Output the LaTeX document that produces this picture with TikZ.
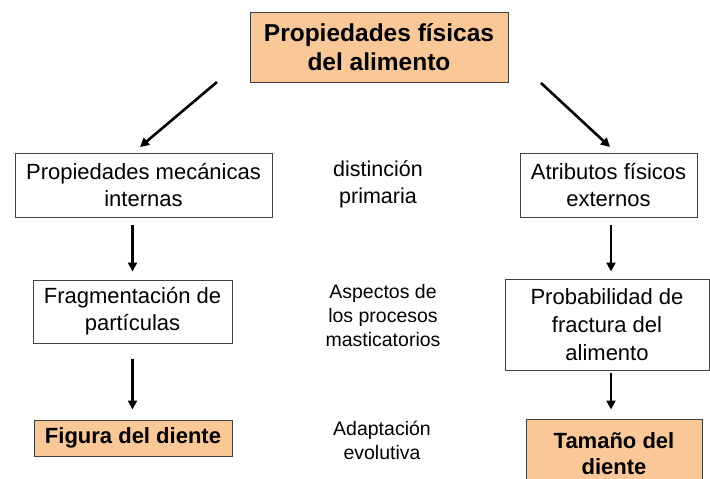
\documentclass[tikz,border=0pt]{standalone}
\usepackage{fontspec}
\setmainfont{Liberation Sans}
\usetikzlibrary{arrows.meta}
\definecolor{peach}{HTML}{F9C896}
\definecolor{edge}{HTML}{404040}
\tikzset{
  box/.style={draw=edge, line width=1pt, fill=white, align=center, inner sep=0pt,
    font=\fontsize{22}{27}\selectfont},
  hibox/.style={box, fill=peach, font=\fontsize{22}{26}\selectfont\bfseries},
  midtext/.style={align=center, inner sep=0pt, font=\fontsize{19.5}{24}\selectfont},
  arr/.style={line width=2.6pt, -{Triangle[length=9pt,width=9pt]}}
}
\begin{document}
\begin{tikzpicture}[x=1pt,y=-1pt]
\useasboundingbox (0,0) rectangle (710,479);
\node[hibox, minimum width=258pt, minimum height=70pt,
  font=\fontsize{24.5}{29}\selectfont\bfseries] (top) at (379,47) {Propiedades físicas\\del alimento};
\node[box, minimum width=257pt, minimum height=64pt] (pmi) at (143.5,185) {Propiedades mecánicas\\internas};
\node[box, minimum width=177pt, minimum height=64pt] (afe) at (608.5,185) {Atributos físicos\\externos};
\node[box, minimum width=199pt, minimum height=63pt] (frag) at (132.5,311.5) {Fragmentación de\\partículas};
\node[box, minimum width=204pt, minimum height=91pt, font=\fontsize{22}{28}\selectfont] (prob) at (607,324.5) {Probabilidad de\\fractura del\\alimento};
\node[hibox, minimum width=198pt, minimum height=36pt] (fig) at (133,438) {Figura del diente};
\node[hibox, minimum width=176pt, minimum height=70pt, align=center] (tam) at (614,454)
  {\fontsize{22}{27}\selectfont\bfseries Tamaño del\\diente};
\node[midtext, font=\fontsize{21.5}{27}\selectfont] (dist) at (378,184.5) {distinción\\primaria};
\node[midtext] (asp) at (383,316) {Aspectos de\\los procesos\\masticatorios};
\node[midtext] (adap) at (382,440.5) {Adaptación\\evolutiva};
\coordinate (l0) at (217,82);
\coordinate (l1) at (140,147);
\coordinate (r0) at (541,83);
\coordinate (r1) at (610,147);
\draw[arr] (l0) -- (l1);
\draw[arr] (r0) -- (r1);
\draw[arr, shorten <=7pt, shorten >=8pt] (frag.north |- pmi.south) -- (frag.north);
\draw[arr, shorten <=15pt, shorten >=10pt] (frag.south) -- (frag.south |- fig.north);
\draw[arr, shorten <=7pt, shorten >=7pt] ([xshift=2.5pt]afe.south) -- ([xshift=2.5pt]afe.south |- prob.north);
\draw[arr, shorten <=2pt, shorten >=9pt] ([xshift=4pt]prob.south) -- ([xshift=4pt]prob.south |- tam.north);
\end{tikzpicture}
\end{document}
